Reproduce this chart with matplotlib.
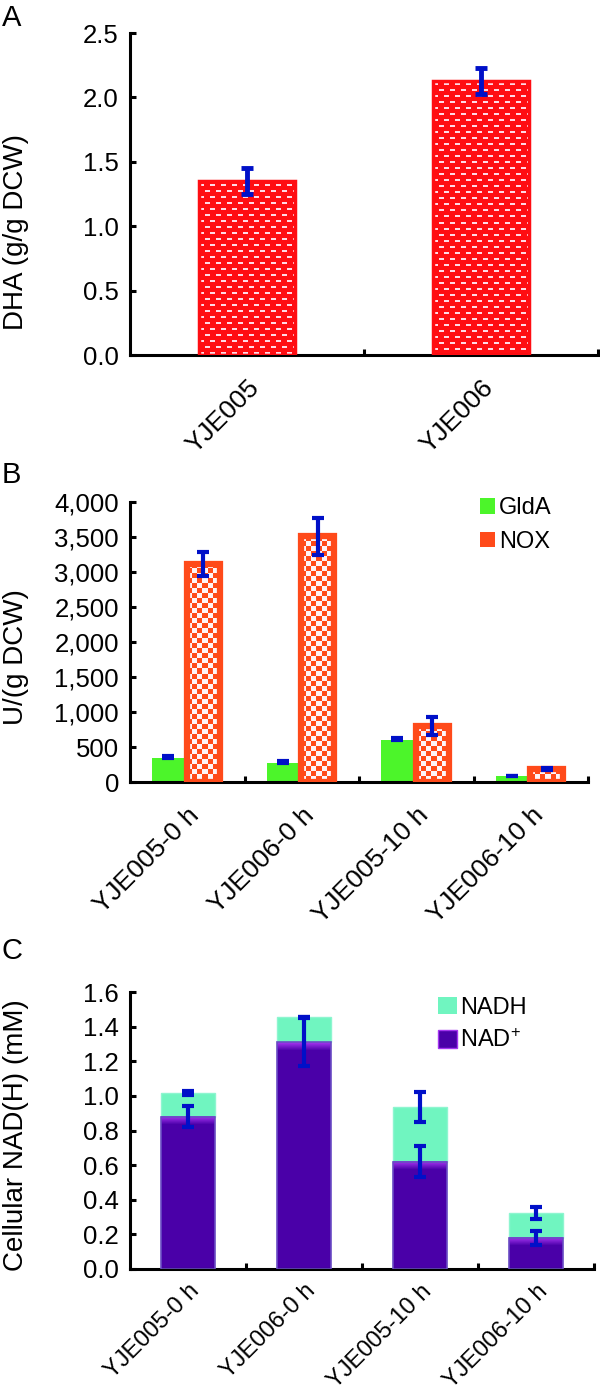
import numpy as np
import matplotlib.pyplot as plt
from matplotlib.patches import Patch

plt.rcParams['font.family'] = ['Liberation Sans', 'DejaVu Sans']
plt.rcParams['mathtext.fontset'] = 'custom'
plt.rcParams['mathtext.rm'] = 'Liberation Sans'
plt.rcParams['mathtext.default'] = 'regular'

# panel A: DHA yield
strains = ['YJE005', 'YJE006']
dha = [1.35, 2.13]
dha_err = [0.10, 0.10]

# panel B: enzyme activities
samples = ['YJE005-0 h', 'YJE006-0 h', 'YJE005-10 h', 'YJE006-10 h']
glda = [340, 275, 595, 80]
glda_err = [30, 25, 40, 10]
nox = [3120, 3510, 795, 185]
nox_err = [170, 260, 130, 20]

# panel C: cofactor pools
nad = [0.88, 1.31, 0.62, 0.18]
nad_err = [0.06, 0.14, 0.09, 0.04]
nadh = [0.135, 0.145, 0.315, 0.145]
total_err = [0.012, 0.0, 0.087, 0.035]

RED = '#ff0d12'
ORANGE = '#ff4a1a'
GREEN = '#4cf52a'
AQUA = '#70f5c0'
PURPLE = '#4a00a8'
VIOLET = '#a535f0'
BLUE = '#0010c8'


def rgb(c):
    return np.array(plt.matplotlib.colors.to_rgb(c))


def dashes(nx, ny):
    img = np.tile(rgb(RED), (ny, nx, 1))
    dash = rgb('#ffd8e4')
    for y in range(ny):
        if y % 6 in (3, 4):
            k = y // 6
            for x in range(nx):
                if (x + (k % 2) * 5) % 11 < 5:
                    img[y, x] = dash
    return img


def checks(nx, ny):
    img = np.tile(rgb(ORANGE), (ny, nx, 1))
    yy, xx = np.mgrid[0:ny, 0:nx]
    mask = ((yy // 5 + xx // 5) % 2) == 0
    img[mask] = rgb('#fff4f8')
    return img


def shaded(nx, ny):
    img = np.tile(rgb(PURPLE), (ny, nx, 1))
    band = 8
    for y in range(min(band, ny)):
        t = y / band
        img[y] = (1 - t) * rgb(VIOLET) + t * rgb(PURPLE)
    return img


def fill_bars(ax, bars, make, zorder):
    for b in bars:
        x0, y0 = b.get_x(), b.get_y()
        x1, y1 = x0 + b.get_width(), y0 + b.get_height()
        (px0, py0), (px1, py1) = ax.transData.transform([(x0, y0), (x1, y1)])
        nx = max(int(round(px1 - px0)), 1)
        ny = max(int(round(py1 - py0)), 1)
        ax.imshow(make(nx, ny), extent=(x0, x1, y0, y1), origin='upper',
                  interpolation='nearest', aspect='auto', zorder=zorder)


def style_axes(ax, labels, ylim, yticks, fmt, pad=15, xsize=19):
    n = len(labels)
    ax.set_xlim(-0.5, n - 0.5)
    ax.set_ylim(*ylim)
    ax.spines[['top', 'right']].set_visible(False)
    for s in ('left', 'bottom'):
        ax.spines[s].set_linewidth(2.2)
    ax.set_xticks(range(n))
    ax.set_xticks(np.arange(0.5, n), minor=True)
    ax.set_xticklabels(labels, rotation=45, ha='right', va='top',
                       rotation_mode='anchor', fontsize=xsize)
    ax.tick_params(axis='x', which='major', length=0, pad=pad)
    ax.tick_params(axis='x', which='minor', direction='in', length=4.5, width=2.2)
    ax.set_yticks(yticks)
    ax.set_yticklabels([fmt(v) for v in yticks])
    ax.tick_params(axis='y', direction='in', length=4.5, width=2.2,
                   labelsize=18.5, pad=8)


fig = plt.figure(figsize=(6, 14), dpi=100)
axA = fig.add_axes([0.2167, 0.7464, 0.78, 0.2300])
axB = fig.add_axes([0.2167, 0.4414, 0.7633, 0.2000])
axC = fig.add_axes([0.2167, 0.0936, 0.7733, 0.1978])

# A
style_axes(axA, strains, (0, 2.5), np.arange(0, 2.51, 0.5), lambda v: f'{v:.1f}')
xa = np.arange(len(strains))
barsA = axA.bar(xa, dha, 0.41, color=RED, zorder=2)
fill_bars(axA, barsA, dashes, 2.5)
axA.bar(xa, dha, 0.41, fill=False, edgecolor=RED, linewidth=2.5, zorder=3)
axA.errorbar(xa, dha, yerr=dha_err, fmt='none', ecolor=BLUE, elinewidth=3.5,
             capsize=4.5, capthick=3.5, zorder=5)
axA.set_ylabel('DHA (g/g DCW)', fontsize=20)
axA.yaxis.set_label_coords(0.048, 0.834, transform=fig.transFigure)

# B
style_axes(axB, samples, (0, 4000), np.arange(0, 4001, 500), lambda v: f'{int(v):,}')
xb = np.arange(len(samples))
axB.bar(xb - 0.165, glda, 0.28, color=GREEN, zorder=2)
barsB = axB.bar(xb + 0.14, nox, 0.29, color=ORANGE, zorder=2)
fill_bars(axB, barsB, checks, 2.5)
axB.bar(xb + 0.14, nox, 0.29, fill=False, edgecolor=ORANGE, linewidth=4.5, zorder=3)
axB.errorbar(xb - 0.165, glda, yerr=[np.zeros(len(glda)), glda_err], fmt='none',
             ecolor=BLUE, elinewidth=3, capsize=4.5, capthick=3, zorder=5)
axB.errorbar(xb + 0.14, nox, yerr=nox_err, fmt='none', ecolor=BLUE, elinewidth=3,
             capsize=4.5, capthick=3, zorder=5)
axB.set_ylabel('U/(g DCW)', fontsize=20)
axB.yaxis.set_label_coords(0.048, 0.531, transform=fig.transFigure)
axB.legend(handles=[Patch(facecolor=GREEN, label='GldA'),
                    Patch(facecolor=ORANGE, label='NOX')],
           loc='upper left', bbox_to_anchor=(0.80, 0.645), bbox_transform=fig.transFigure,
           frameon=False, fontsize=17, handlelength=0.65, handleheight=0.65,
           handletextpad=0.15, labelspacing=0.5, borderpad=0, borderaxespad=0)

# C
style_axes(axC, samples, (0, 1.6), np.arange(0, 1.61, 0.2), lambda v: f'{v:.1f}',
           pad=8, xsize=17)
xc = np.arange(len(samples))
barsC = axC.bar(xc, nad, 0.46, color=PURPLE, zorder=2)
fill_bars(axC, barsC, shaded, 2.5)
axC.bar(xc, nad, 0.46, fill=False, edgecolor='#6a4cc4', linewidth=1.2, zorder=3)
axC.bar(xc, nadh, 0.46, bottom=nad, color=AQUA, edgecolor='#8ef5d0',
        linewidth=1.0, zorder=2)
axC.errorbar(xc, nad, yerr=nad_err, fmt='none', ecolor=BLUE, elinewidth=3,
             capsize=4.5, capthick=3, zorder=5)
axC.errorbar(xc, np.add(nad, nadh), yerr=total_err, fmt='none', ecolor=BLUE,
             elinewidth=3, capsize=4.5, capthick=3, zorder=5)
axC.set_ylabel('Cellular NAD(H) (mM)', fontsize=20)
axC.yaxis.set_label_coords(0.048, 0.189, transform=fig.transFigure)
axC.legend(handles=[Patch(facecolor=AQUA, label='NADH'),
                    Patch(facecolor=PURPLE, edgecolor=VIOLET, label='NAD$^{+}$')],
           loc='upper left', bbox_to_anchor=(0.73, 0.288), bbox_transform=fig.transFigure,
           frameon=False, fontsize=17, handlelength=0.8, handleheight=0.75,
           handletextpad=0.15, labelspacing=0.45, borderpad=0, borderaxespad=0)

for letter, y in (('A', 0.997), ('B', 0.671), ('C', 0.331)):
    fig.text(0.003, y, letter, fontsize=21, va='top')

fig.savefig('out.png', dpi=100)
